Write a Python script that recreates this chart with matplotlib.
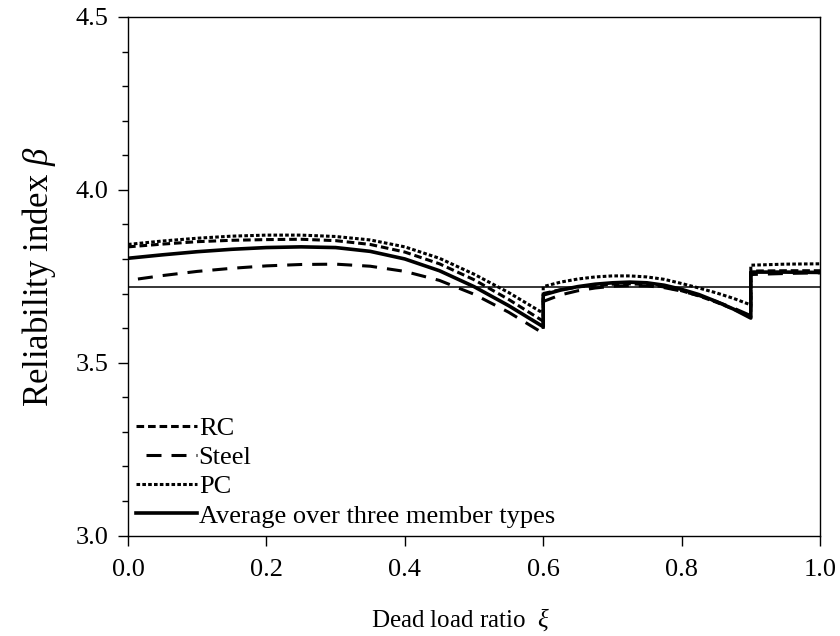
import matplotlib
matplotlib.use("Agg")
import matplotlib.pyplot as plt

plt.rcParams["font.family"] = ["Liberation Serif", "DejaVu Serif"]
plt.rcParams["mathtext.fontset"] = "custom"
plt.rcParams["mathtext.rm"] = "Liberation Serif"
plt.rcParams["mathtext.it"] = "Liberation Serif:italic"
plt.rcParams["lines.scale_dashes"] = False

# Dead load ratio (breakpoints at 0.6 and 0.9 repeated to draw the jumps)
xi = [0.0, 0.05, 0.1, 0.15, 0.2, 0.25, 0.3, 0.35, 0.4, 0.45, 0.5, 0.55, 0.6,
      0.6, 0.625, 0.65, 0.675, 0.7, 0.725, 0.75, 0.775, 0.8, 0.825, 0.85, 0.875, 0.9,
      0.9, 0.95, 1.0]

beta_rc = [3.835, 3.843, 3.850, 3.854, 3.856, 3.857, 3.853, 3.842, 3.820, 3.786, 3.740, 3.683, 3.620,
           3.700, 3.711, 3.719, 3.724, 3.727, 3.728, 3.726, 3.719, 3.708, 3.693, 3.675, 3.655, 3.632,
           3.765, 3.766, 3.766]

beta_steel = [3.738, 3.752, 3.764, 3.773, 3.780, 3.784, 3.785, 3.779, 3.764, 3.738, 3.698, 3.646, 3.585,
              3.677, 3.696, 3.708, 3.716, 3.721, 3.723, 3.722, 3.717, 3.707, 3.694, 3.677, 3.658, 3.636,
              3.755, 3.758, 3.760]

beta_pc = [3.842, 3.852, 3.860, 3.866, 3.869, 3.869, 3.865, 3.855, 3.835, 3.802, 3.756, 3.703, 3.643,
           3.720, 3.733, 3.742, 3.748, 3.751, 3.751, 3.748, 3.741, 3.729, 3.716, 3.702, 3.686, 3.667,
           3.782, 3.785, 3.786]

beta_avg = [3.802, 3.812, 3.821, 3.828, 3.833, 3.835, 3.833, 3.822, 3.800, 3.766, 3.720, 3.665, 3.604,
            3.696, 3.710, 3.720, 3.727, 3.731, 3.733, 3.731, 3.724, 3.712, 3.697, 3.677, 3.655, 3.629,
            3.762, 3.762, 3.761]

beta_target = 3.72

labels = ["RC", "Steel", "PC", "Average over three member types"]

fig = plt.figure(figsize=(8.4, 6.36), dpi=100)
ax = fig.add_axes([0.1524, 0.158, 0.8238, 0.8153])

ax.axhline(beta_target, color="black", lw=1.1)
ax.plot(xi, beta_rc, color="black", lw=2.2, linestyle=(0, (5.5, 2.8)), label=labels[0])
ax.plot(xi, beta_steel, color="black", lw=2.2, linestyle=(10.8, (10.8, 7.2)), label=labels[1])
ax.plot(xi, beta_pc, color="black", lw=2.2, linestyle=(0, (2.6, 1.6)), label=labels[2])
ax.plot(xi, beta_avg, color="black", lw=2.6, label=labels[3])

ax.set_xlim(0, 1.0)
ax.set_ylim(3.0, 4.5)
ax.set_xticks([0.0, 0.2, 0.4, 0.6, 0.8, 1.0])
ax.set_yticks([3.0, 3.5, 4.0, 4.5])
ax.set_yticks([3.1, 3.2, 3.3, 3.4, 3.6, 3.7, 3.8, 3.9, 4.1, 4.2, 4.3, 4.4], minor=True)
ax.xaxis.set_major_formatter(matplotlib.ticker.FormatStrFormatter("%.1f"))
ax.yaxis.set_major_formatter(matplotlib.ticker.FormatStrFormatter("%.1f"))
ax.tick_params(axis="both", which="major", direction="out", length=7, width=1.0,
               labelsize=19, top=False, right=False)
ax.tick_params(axis="x", which="major", pad=10)
ax.tick_params(axis="y", which="major", pad=7)
ax.tick_params(axis="y", which="minor", direction="out", length=4.3, width=1.0)
for s in ax.spines.values():
    s.set_linewidth(1.0)

ax.set_xlabel("Dead load ratio  $\\xi$", fontsize=18, labelpad=18)
ax.xaxis.label.set_x(0.48)
ax.set_ylabel("Reliability index $\\beta$", fontsize=25, labelpad=13)

leg = ax.legend(loc="lower left", frameon=False, fontsize=19, handlelength=2.3,
                handletextpad=0.08, labelspacing=0.22, borderaxespad=0.1,
                borderpad=0.2)

fig.savefig("out.png", dpi=100)
